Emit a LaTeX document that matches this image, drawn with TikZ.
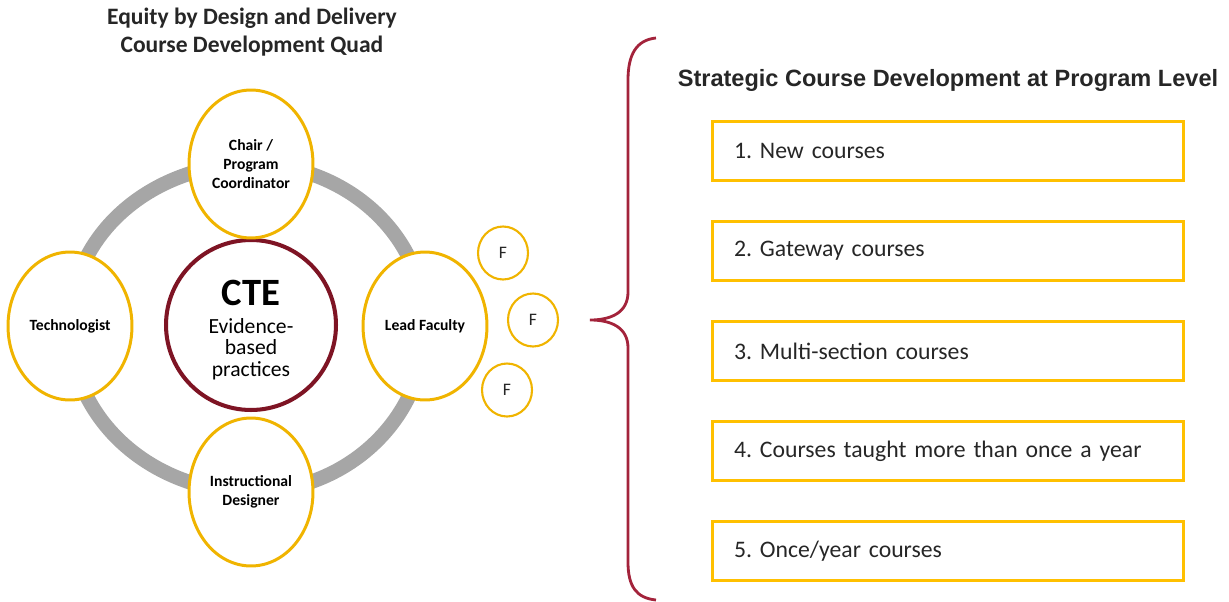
\documentclass[tikz,border=0pt]{standalone}
\usepackage{fontspec}
\setmainfont{Carlito}
\newfontfamily\headfont{Liberation Sans}
\usepackage{xcolor}
\usepackage{tikz}
\usetikzlibrary{positioning,shapes.geometric,backgrounds}
\definecolor{gold}{HTML}{F0B400}
\definecolor{boxgold}{HTML}{FFC000}
\definecolor{maroon}{HTML}{7E1424}
\definecolor{bracered}{HTML}{A3233B}
\definecolor{ringgray}{HTML}{A6A6A6}
\definecolor{ink}{HTML}{262626}
\frenchspacing

\begin{document}
\begin{tikzpicture}[x=0.02cm, y=-0.02cm,
  role/.style={ellipse, draw=gold, line width=1.7pt, fill=white, minimum width=2.48cm, minimum height=2.96cm, inner sep=0pt, align=center, font=\bfseries\fontsize{8.9}{11}\selectfont},
  fac/.style={ellipse, draw=gold, line width=1.2pt, fill=white, minimum width=1cm, minimum height=1.06cm, inner sep=0pt, font=\fontsize{10}{10}\selectfont, text=ink},
  level/.style={draw=boxgold, line width=1.7pt, minimum height=1.18cm, text width=8.56cm, inner xsep=0.44cm, align=left, font=\fontsize{13.5}{16}\selectfont, text=ink},
  ring/.style={draw=ringgray, line width=0.29cm},
  brace/.style={draw=bracered, line width=1.6pt}]
  \useasboundingbox (0,0) rectangle (1229,601);
  % quad
  \node[font=\bfseries\fontsize{13.4}{15.5}\selectfont, text=ink, align=center] (title) at (252,32) {Equity by Design and Delivery\\Course Development Quad};
  \node[circle, draw=maroon, line width=2.3pt, fill=white, minimum size=3.4cm, font=\fontsize{12.3}{11.8}\selectfont] (cte) at (251,325)
    {\smash{\raisebox{-6.5pt}{\begin{tabular}{@{}c@{}}{\bfseries\fontsize{22}{22}\selectfont CTE}\\[4pt]Evidence-\\based\\practices\end{tabular}}}};
  \node[role] (chair) at (251,164) {Chair /\\Program\\Coordinator};
  \node[role] (tech) at (70,326) {Technologist};
  \node[role] (lead) at (425,326) {Lead Faculty};
  \node[role] (design) at (251,492) {Instructional\\Designer};
  \node[fac] (f1) at (503,253) {F};
  \node[fac] (f2) at (533,320) {F};
  \node[fac] (f3) at (507,390) {F};
  \begin{scope}[on background layer]
    \draw[ring] (chair.center) to[out=0,in=90] (lead.center) to[out=-90,in=0] (design.center)
      to[out=180,in=-90] (tech.center) to[out=90,in=180] (chair.center);
  \end{scope}
  % brace
  \draw[brace] (656,38) .. controls (636,40) and (628,55) .. (628,80) -- (628,292)
    .. controls (628,312) and (612,320) .. (590,320) .. controls (612,320) and (628,328) .. (628,348)
    -- (628,562) .. controls (628,586) and (636,598) .. (656,600);
  % course list
  \node[font=\headfont\bfseries\fontsize{13.4}{15}\selectfont, text=ink] (strat) at (948,80) {Strategic Course Development at Program Level};
  \node[level] (c1) at (948,151) {1. New courses};
  \node[level, below=0.76cm of c1] (c2) {2. Gateway courses};
  \node[level, below=0.76cm of c2] (c3) {3. Multi-section courses};
  \node[level, below=0.76cm of c3] (c4) {4. Courses taught more than once a year};
  \node[level, below=0.76cm of c4] (c5) {5. Once/year courses};
\end{tikzpicture}
\end{document}
